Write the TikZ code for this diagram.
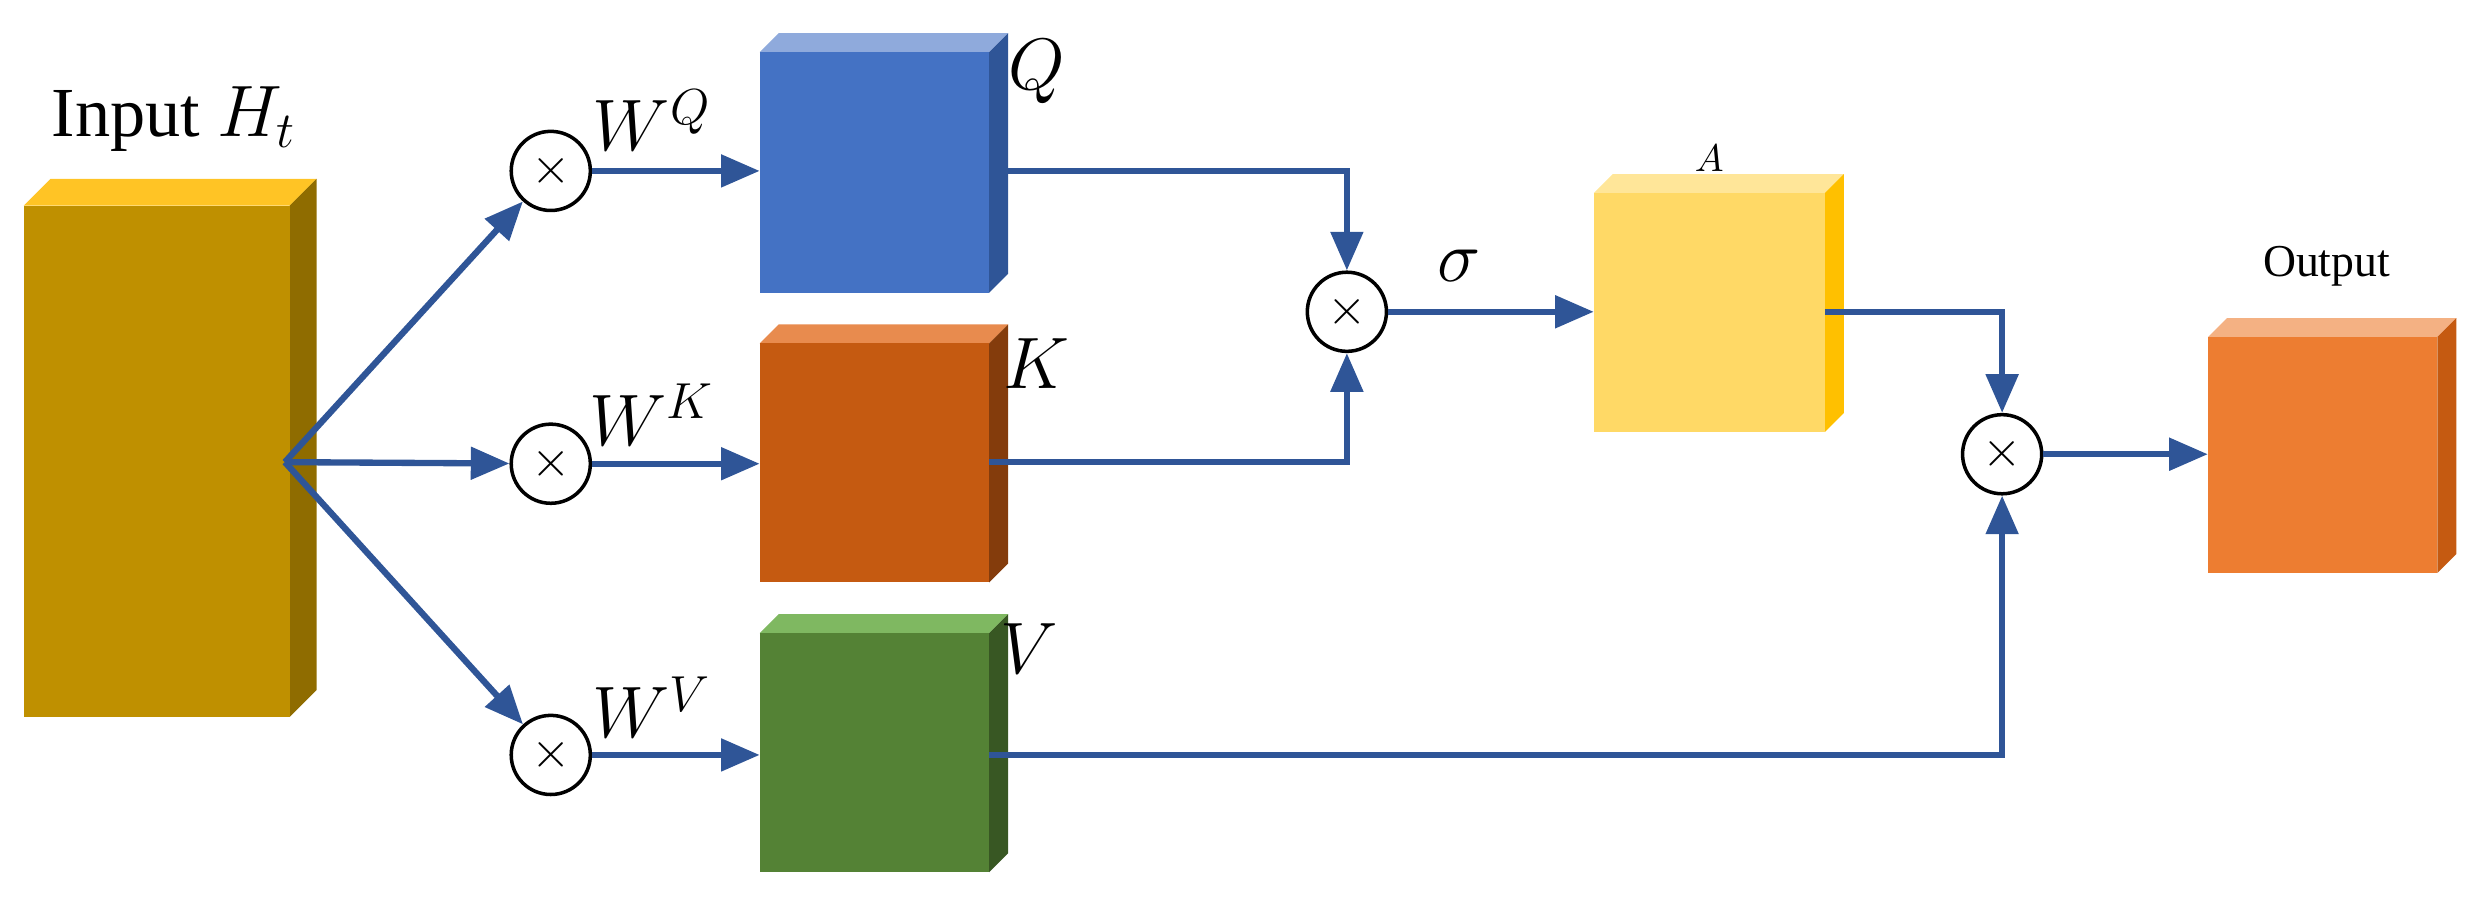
\documentclass[tikz,border=0pt]{standalone}
\usepackage{fontspec}
\setmainfont{Liberation Serif}
\usetikzlibrary{arrows.meta,calc}
\begin{document}
\begin{tikzpicture}[x=0.01583cm,y=-0.01583cm,
  ar/.style={draw=arr,line width=1.8pt,-{Triangle[length=11pt,width=9pt]}},
  mul/.style={circle,draw=black,line width=1pt,minimum size=50*0.01583cm,inner sep=0pt,font=\Large},
  lab/.style={font=\fontsize{20}{22}\selectfont}]
\definecolor{arr}{HTML}{2F5597}
\useasboundingbox (0,0) rectangle (1560,568);
\newcommand\mycube[9]{%
  \fill[#7] (#2,#3) -- ++(#9,-#9) -- ++(#4-#2,0) -- (#4,#3) -- cycle;
  \fill[#8] (#4,#3) -- ++(#9,-#9) -- ++(0,#5-#3) -- (#4,#5) -- cycle;
  \node[fill=#6,inner sep=0pt,outer sep=0pt,minimum width={(#4-#2)*0.01583cm},minimum height={(#5-#3)*0.01583cm},anchor=north west] (#1) at (#2,#3) {};}
\definecolor{inF}{HTML}{BF9000}\definecolor{inT}{HTML}{FFC425}\definecolor{inS}{HTML}{8F6C00}
\definecolor{qF}{HTML}{4472C4}\definecolor{qT}{HTML}{8FAADC}\definecolor{qS}{HTML}{2F5597}
\definecolor{kF}{HTML}{C55A11}\definecolor{kT}{HTML}{E88B4E}\definecolor{kS}{HTML}{843C0C}
\definecolor{vF}{HTML}{548235}\definecolor{vT}{HTML}{7FB861}\definecolor{vS}{HTML}{385723}
\definecolor{aF}{HTML}{FFD966}\definecolor{aT}{HTML}{FFE699}\definecolor{aS}{HTML}{FFC000}
\definecolor{oF}{HTML}{ED7D31}\definecolor{oT}{HTML}{F4B183}\definecolor{oS}{HTML}{C55A11}
\mycube{in}{15}{130}{183}{453}{inF}{inT}{inS}{17}
\mycube{q}{480}{33}{625}{185}{qF}{qT}{qS}{12}
\mycube{k}{480}{217}{625}{368}{kF}{kT}{kS}{12}
\mycube{v}{480}{400}{625}{551}{vF}{vT}{vS}{12}
\mycube{a}{1007}{122}{1153}{273}{aF}{aT}{aS}{12}
\mycube{o}{1395}{213}{1540}{362}{oF}{oT}{oS}{12}
\node[lab] (tin) at (110,75) {Input $H_t$};
\node[lab] (tq) at (655,45) {$Q$};
\node[lab] (tk) at (655,230) {$K$};
\node[lab] (tv) at (650,410) {$V$};
\node[lab] (twq) at (412,76) {$W^{\scriptstyle Q}$};
\node[lab] (twk) at (412,262) {$W^{\scriptstyle K}$};
\node[lab] (twv) at (412,447) {$W^{\scriptstyle V}$};
\node[lab] (ts) at (922,168) {$\sigma$};
\node[font=\fontsize{11}{13}\selectfont] (ta) at (1080,100) {$A$};
\node[font=\fontsize{13}{15}\selectfont] (to) at (1470,168) {Output};
\node[mul] (m1) at (348,108) {$\times$};
\node[mul] (m2) at (348,293) {$\times$};
\node[mul] (m3) at (348,477) {$\times$};
\node[mul] (mq) at (851,197) {$\times$};
\node[mul] (ma) at (1265,287) {$\times$};
\coordinate (br) at (180,292);
\draw[ar] (br) -- (m1);
\draw[ar] (br) -- (m2);
\draw[ar] (br) -- (m3);
\draw[ar] (m1) -- (q.west|-m1);
\draw[ar] (m2) -- (k.west|-m2);
\draw[ar] (m3) -- (v.west|-m3);
\draw[ar] (q.east|-0,108) -| (mq.north);
\draw[ar] (k.east|-0,292) -| (mq.south);
\draw[ar] (mq) -- (a.west|-mq);
\draw[ar] (a.east|-0,197) -| (ma.north);
\draw[ar] (v.east|-0,477) -| (ma.south);
\draw[ar] (ma) -- (o.west|-ma);
\end{tikzpicture}
\end{document}
